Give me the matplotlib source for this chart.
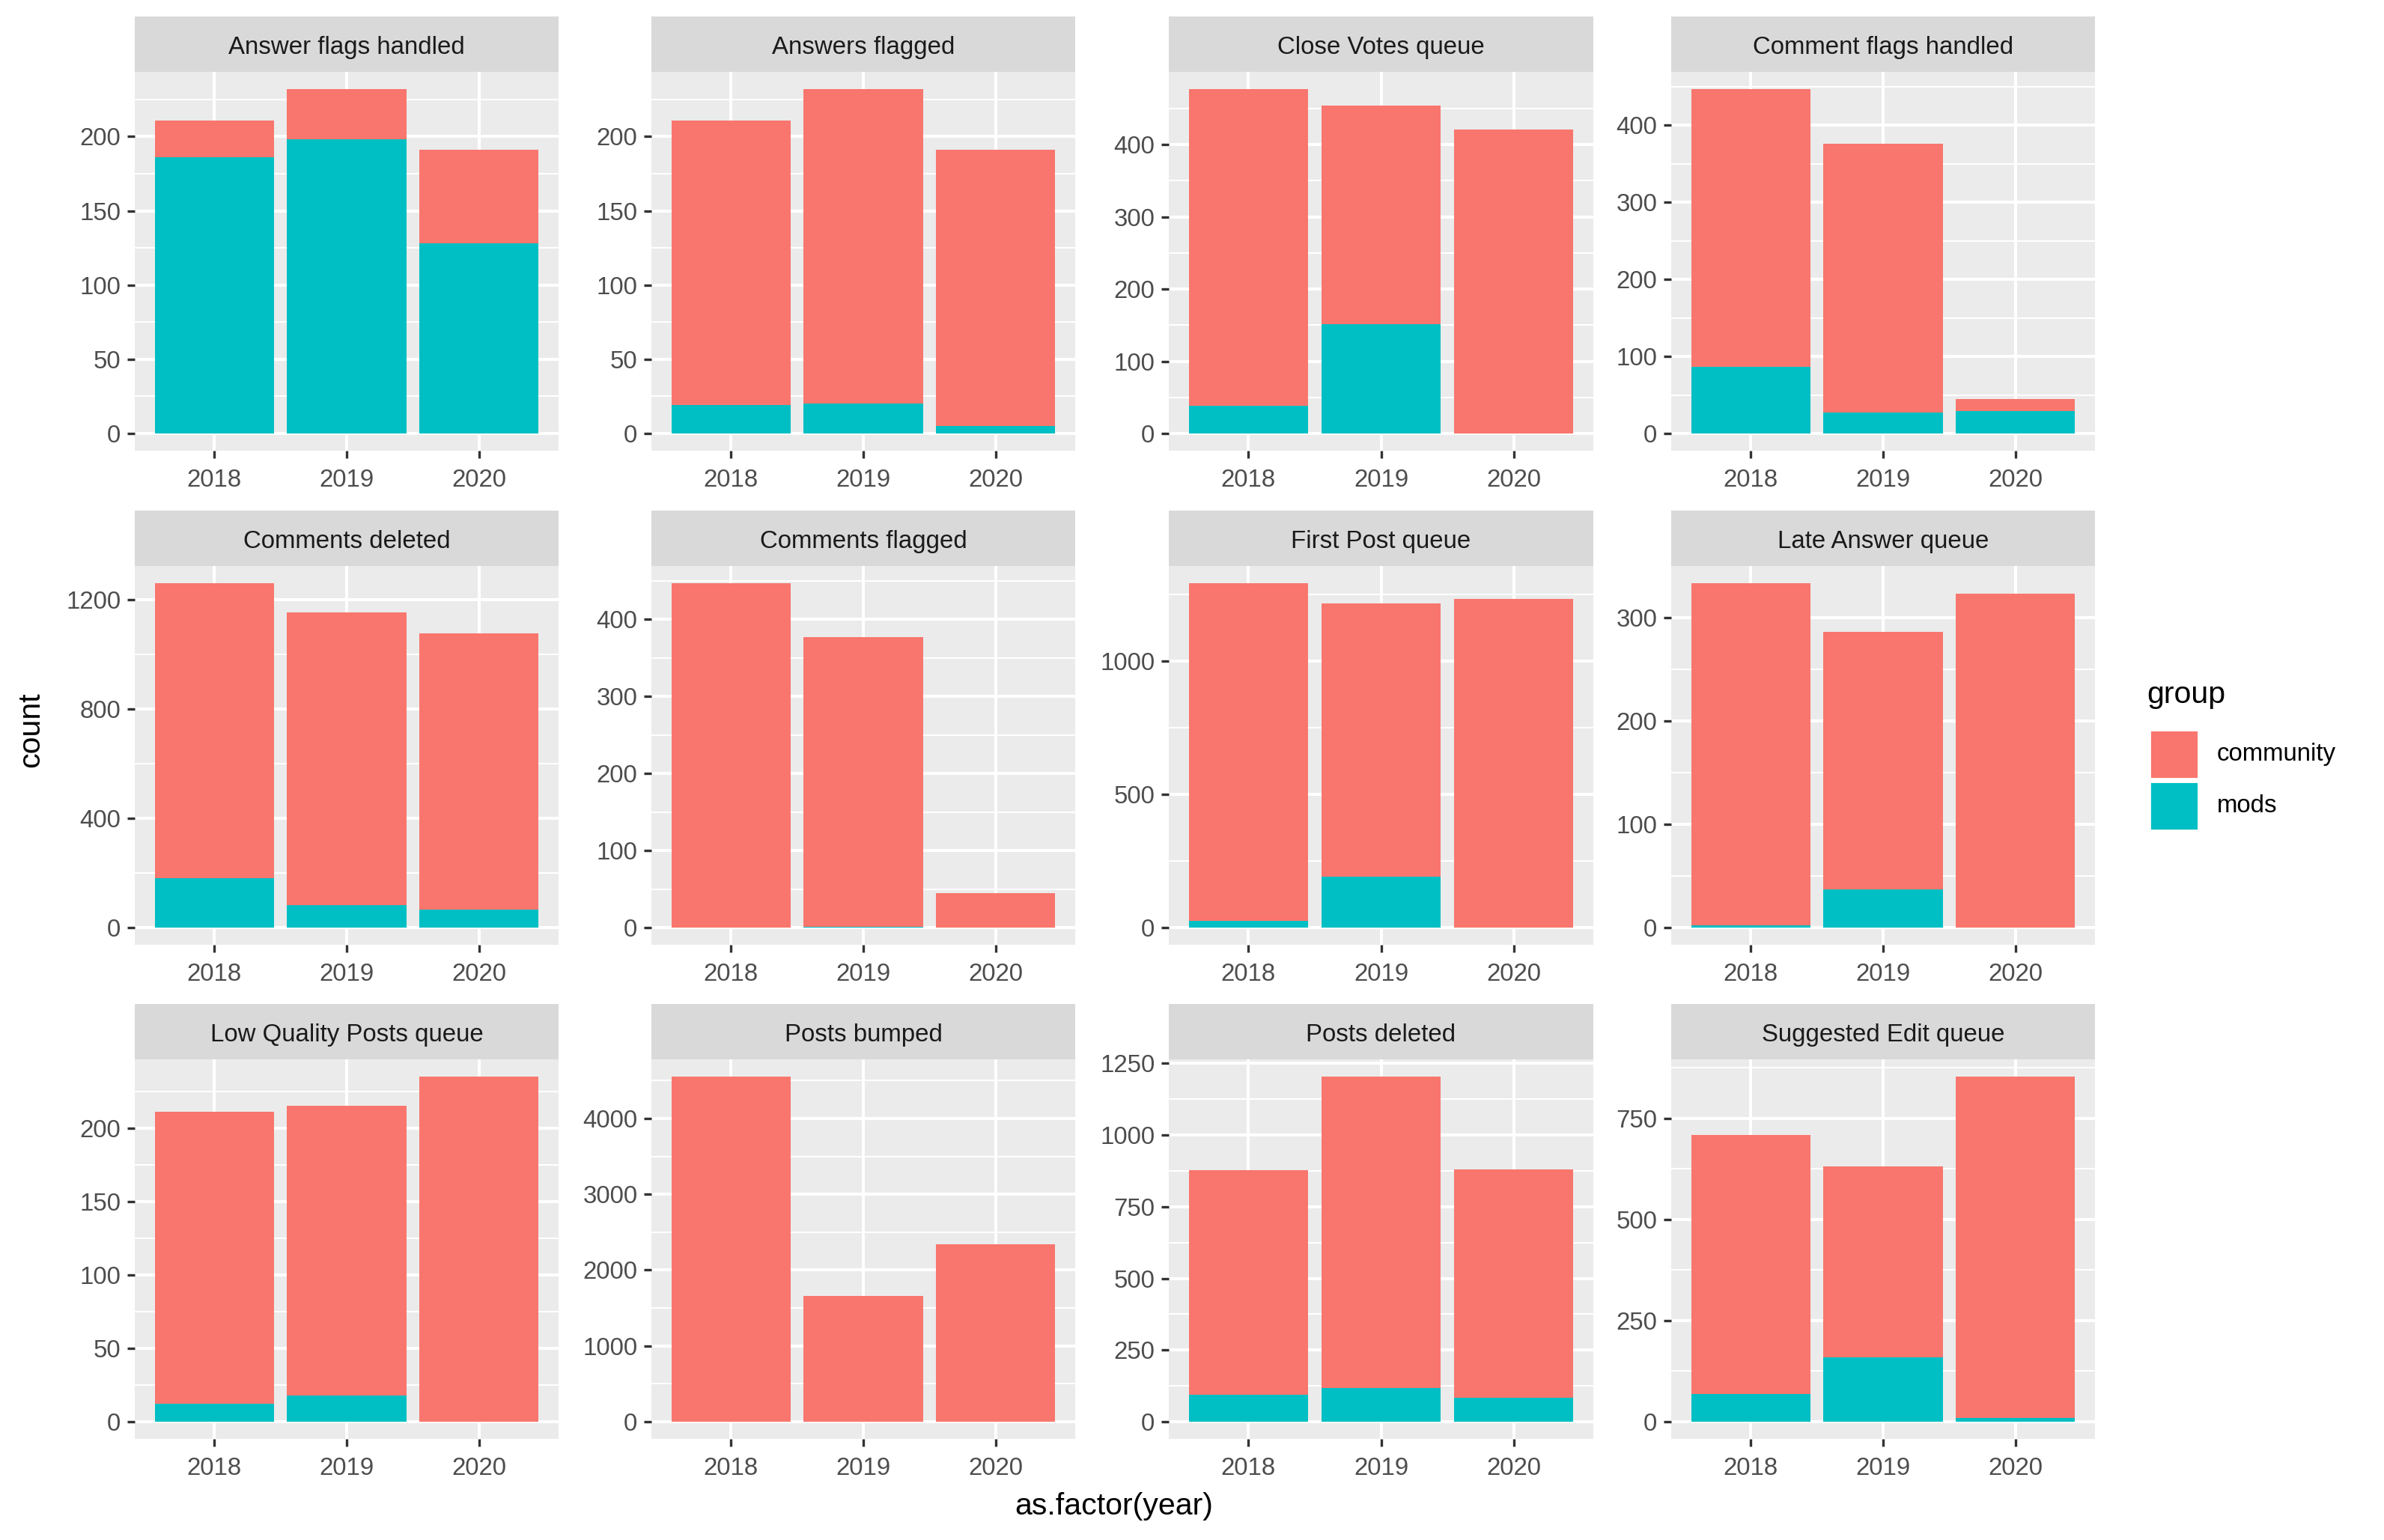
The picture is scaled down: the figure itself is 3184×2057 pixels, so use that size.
import numpy as np
import matplotlib
matplotlib.use("Agg")
import matplotlib.pyplot as plt
from matplotlib.patches import Rectangle

plt.rcParams['font.family'] = ['Liberation Sans', 'DejaVu Sans']

# data
years = ['2018', '2019', '2020']
panels = ['Answer flags handled', 'Answers flagged', 'Close Votes queue', 'Comment flags handled',
          'Comments deleted', 'Comments flagged', 'First Post queue', 'Late Answer queue',
          'Low Quality Posts queue', 'Posts bumped', 'Posts deleted', 'Suggested Edit queue']
mods = [[186, 198, 128], [19, 20, 5], [38, 151, 0], [86, 27, 29],
        [181, 82, 67], [0, 1, 0], [24, 192, 0], [2, 37, 0],
        [12, 18, 0], [0, 0, 0], [95, 118, 84], [69, 160, 10]]
community = [[25, 34, 63], [192, 212, 186], [439, 303, 421], [361, 349, 16],
             [1078, 1070, 1009], [447, 376, 45], [1267, 1024, 1232], [331, 249, 323],
             [199, 197, 235], [4552, 1660, 2340], [783, 1086, 796], [640, 471, 843]]
yticks = [[0, 50, 100, 150, 200], [0, 50, 100, 150, 200], [0, 100, 200, 300, 400], [0, 100, 200, 300, 400],
          [0, 400, 800, 1200], [0, 100, 200, 300, 400], [0, 500, 1000], [0, 100, 200, 300],
          [0, 50, 100, 150, 200], [0, 1000, 2000, 3000, 4000], [0, 250, 500, 750, 1000, 1250], [0, 250, 500, 750]]

COL_COMM = '#F8766D'
COL_MODS = '#00BFC4'

W, H = 3184, 2057
DPI = 200
fig = plt.figure(figsize=(W / DPI, H / DPI), dpi=DPI)
fig.patch.set_facecolor('white')

SMALL = 11.9   # 8.8pt in the ggplot original
BIG = 14.8     # 11pt


def rect(x0, y0, x1, y1):
    return [x0 / W, 1 - y1 / H, (x1 - x0) / W, (y1 - y0) / H]


# pixel boxes of the facets (left, right) and (strip top, panel top, panel bottom)
cols_x = [(180, 746), (870, 1436), (1561, 2128), (2232, 2798)]
rows_y = [(22, 96, 602), (682, 756, 1262), (1341, 1415, 1922)]

x = np.arange(1, 4)
for i, name in enumerate(panels):
    r, c = divmod(i, 4)
    x0, x1 = cols_x[c]
    s0, p0, p1 = rows_y[r]

    ax = fig.add_axes(rect(x0, p0, x1, p1))
    ax.set_facecolor('#EBEBEB')
    m = np.array(mods[i])
    cm = np.array(community[i])
    ax.bar(x, m, width=0.9, color=COL_MODS, zorder=3)
    ax.bar(x, cm, width=0.9, bottom=m, color=COL_COMM, zorder=3)

    top = (m + cm).max()
    ax.set_ylim(-0.05 * top, 1.05 * top)
    ax.set_xlim(0.4, 3.6)
    tk = yticks[i]
    step = tk[1] - tk[0]
    ax.set_yticks(tk)
    ax.set_yticks(np.arange(tk[0] + step / 2, 1.05 * top, step), minor=True)
    ax.set_xticks(x)
    ax.set_xticklabels(years)
    ax.grid(which='major', color='white', linewidth=1.45, zorder=1)
    ax.grid(which='minor', axis='y', color='white', linewidth=0.72, zorder=1)
    ax.set_axisbelow(True)
    for sp in ax.spines.values():
        sp.set_visible(False)
    ax.tick_params(which='major', length=3.7, width=1.2, color='#333333',
                   labelcolor='#4D4D4D', labelsize=SMALL, pad=3.0)
    ax.tick_params(axis='x', which='major', pad=4.8)
    ax.tick_params(which='minor', length=0)

    sax = fig.add_axes(rect(x0, s0, x1, p0))
    sax.set_facecolor('#D9D9D9')
    sax.set_xticks([])
    sax.set_yticks([])
    for sp in sax.spines.values():
        sp.set_visible(False)
    sax.text(0.5, 0.44, name, ha='center', va='center', fontsize=SMALL,
             color='#1A1A1A', transform=sax.transAxes)

# axis titles
fig.text(41 / W, 1 - 975 / H, 'count', rotation=90, ha='center', va='center',
         fontsize=BIG, color='black')
fig.text(1488 / W, 1 - 2012 / H, 'as.factor(year)', ha='center', va='center',
         fontsize=BIG, color='black')

# legend
fig.text(2867 / W, 1 - 928 / H, 'group', ha='left', va='center', fontsize=BIG)
key = 65
ky = 975
for lab, col in [('community', COL_COMM), ('mods', COL_MODS)]:
    fig.add_artist(Rectangle((2871 / W, 1 - (ky + key) / H), key / W, key / H,
                             transform=fig.transFigure, facecolor=col, edgecolor='white',
                             linewidth=1.0))
    fig.text(2961 / W, 1 - (ky + key / 2) / H, lab, ha='left', va='center', fontsize=SMALL)
    ky += key + 4

fig.savefig('out.png', dpi=DPI)
